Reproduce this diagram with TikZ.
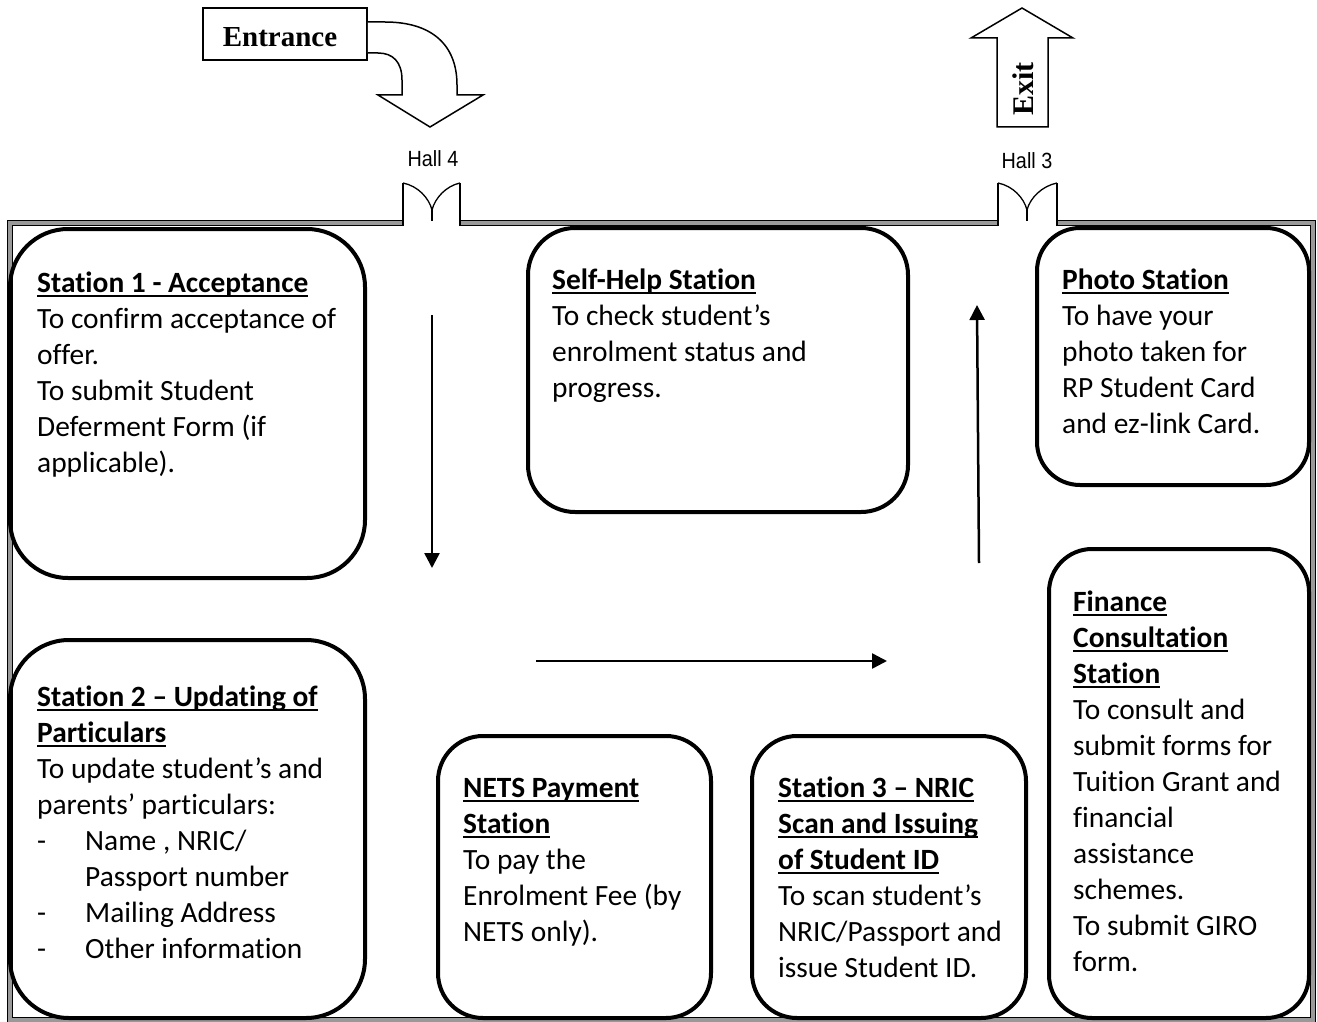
\documentclass[tikz,border=0pt]{standalone}
\usepackage{graphicx}
\usepackage{fontspec}
\setmainfont[Ligatures=NoCommon]{Carlito}
\newfontfamily\tnr{Liberation Serif}
\newfontfamily\arl{Liberation Sans}
\usetikzlibrary{arrows.meta}
\newcommand\uh[1]{\setbox0=\hbox{\bfseries #1}\rlap{\rule[-5pt]{\wd0}{2.4pt}}\box0}
\newcommand\bl{\makebox[48pt][l]{-}}
\begin{document}
\begin{tikzpicture}[x=1pt,y=-1pt,
  stationbox/.style={draw, line width=4pt, inner sep=0pt, minimum width=#1},
  txt/.style={anchor=north west, inner sep=0pt, align=left, font=\fontsize{29.4}{36}\selectfont},
  flow/.style={line width=2.5pt, -{Triangle[length=15pt,width=15pt]}},
  wallout/.style={line width=6pt, black},
  wallin/.style={line width=4pt, black!40},
  post/.style={line width=2pt},
  leaf/.style={line width=1.3pt},
  hall/.style={font=\arl\fontsize{22}{22}\selectfont, anchor=base, inner sep=0pt}]
\useasboundingbox (0,0) rectangle (1317,1022);
% outer walls
\foreach \s in {wallout,wallin}{
  \draw[\s] (403,223) -- (10,223) -- (10,1020) -- (1313,1020) -- (1313,223) -- (1057,223);
  \draw[\s] (460,223) -- (998,223);
}
% doors
\draw[post] (403,226) -- (403,183);
\draw[post] (460,226) -- (460,183);
\draw[leaf] (403,183) .. controls (418,186) and (429,198) .. (432,210);
\draw[leaf] (460,183) .. controls (446,186) and (435,198) .. (432,210);
\draw[leaf] (432,210) -- (432,221);
\draw[post] (998,226) -- (998,183);
\draw[post] (1057,226) -- (1057,183);
\draw[leaf] (998,183) .. controls (1013,186) and (1024,198) .. (1027,210);
\draw[leaf] (1057,183) .. controls (1042,186) and (1030,198) .. (1027,210);
\draw[leaf] (1027,210) -- (1027,221);
\node[hall] (h4) at (433,166) {\scalebox{0.9}[1]{Hall 4}};
\node[hall] (h3) at (1027,168) {\scalebox{0.9}[1]{Hall 3}};
% entrance
\node[draw, line width=1.5pt, minimum width=164pt, minimum height=52pt, inner sep=0pt,
  text height=25pt, text depth=0pt, font=\tnr\bfseries\fontsize{29}{29}\selectfont] (ent) at (285,34) {\hspace*{-10pt}Entrance};
\draw[line width=1.5pt, fill=white] (ent.east |- 0,22) -- (385,22) .. controls (432,22) and (457,45) .. (457,85) -- (457,95) -- (483,95) -- (430,127) -- (378,95) -- (402,95) -- (402,80) .. controls (402,62) and (393,53) .. (378,53) -- (ent.east |- 0,53);
% exit
\draw[line width=1.5pt, fill=white] (997,127) -- (997,38) -- (971,38) -- (1022,8) -- (1073,38) -- (1048,38) -- (1048,127) -- cycle;
\node[rotate=90, inner sep=0pt, font=\tnr\bfseries\fontsize{30}{30}\selectfont] (exitlbl) at (1023,89) {Exit};
% station boxes
\node[stationbox=355pt, minimum height=349pt, rounded corners=58pt] (s1) at (187.5,403.5) {};
\node[stationbox=380pt, minimum height=284pt, rounded corners=47pt] (sh) at (718,370) {};
\node[stationbox=272pt, minimum height=257pt, rounded corners=43pt] (ph) at (1173,356.5) {};
\node[stationbox=260pt, minimum height=469pt, rounded corners=43pt] (fi) at (1179,783.5) {};
\node[stationbox=355pt, minimum height=378pt, rounded corners=59pt] (s2) at (187.5,829) {};
\node[stationbox=273pt, minimum height=282pt, rounded corners=45pt] (ne) at (574.5,877) {};
\node[stationbox=274pt, minimum height=282pt, rounded corners=45pt] (s3) at (889,877) {};
% texts
\node[txt] (t1) at (37,266.8) {\strut\uh{Station 1 - Acceptance}\\To confirm acceptance of\\offer.\\To submit Student\\Deferment Form (if\\applicable).};
\node[txt] (tsh) at (552,263.8) {\strut\uh{Self-Help Station}\\To check student’s\\enrolment status and\\progress.};
\node[txt] (tph) at (1062,263.8) {\strut\uh{Photo Station}\\To have your\\photo taken for\\RP Student Card\\and ez-link Card.};
\node[txt] (tfi) at (1073,585.8) {\strut\uh{Finance}\\\uh{Consultation}\\\uh{Station}\\To consult and\\submit forms for\\Tuition Grant and\\financial\\assistance\\schemes.\\To submit GIRO\\form.};
\node[txt] (t2) at (37,680.8) {\strut\uh{Station 2 -- Updating of}\\\uh{Particulars}\\To update student’s and\\parents’ particulars:\\\bl Name , NRIC/\\\hspace*{48pt}Passport number\\\bl Mailing Address\\\bl Other information};
\node[txt] (tne) at (463,771.8) {\strut\uh{NETS Payment}\\\uh{Station}\\To pay the\\Enrolment Fee (by\\NETS only).};
\node[txt] (t3) at (778,771.8) {\strut\uh{Station 3 -- NRIC}\\\uh{Scan and Issuing}\\\uh{of Student ID}\\To scan student’s\\NRIC/Passport and\\issue Student ID.};
% flow arrows
\coordinate (d1) at (432,315); \coordinate (d2) at (432,568);
\coordinate (r1) at (536,661); \coordinate (r2) at (887,661);
\coordinate (u1) at (979,563); \coordinate (u2) at (977,305);
\draw[flow] (d1) -- (d2);
\draw[flow] (r1) -- (r2);
\draw[flow] (u1) -- (u2);
\end{tikzpicture}
\end{document}
